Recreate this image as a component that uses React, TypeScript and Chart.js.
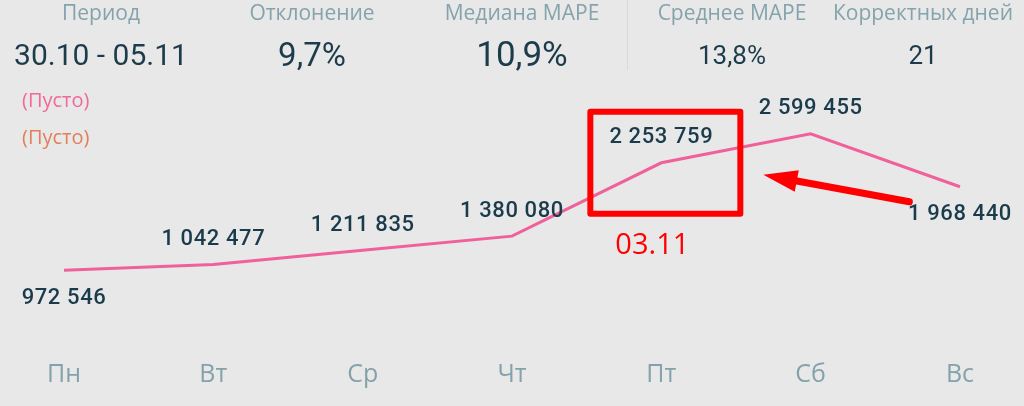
import React, { useEffect, useRef } from "react";
import { Chart, registerables } from "chart.js";

Chart.register(...registerables);

const categories = ["Пн", "Вт", "Ср", "Чт", "Пт", "Сб", "Вс"];
const values = [972546, 1042477, 1211835, 1380080, 2253759, 2599455, 1968440];
const labelSides = ["below", "above", "above", "above", "above", "above", "below"];
const highlightIndex = 4;
const highlightLabel = "03.11";
const kpiTitles = ["Период", "Отклонение", "Медиана MAPE", "Среднее MAPE", "Корректных дней"];
const kpiValues = ["30.10 - 05.11", "9,7%", "10,9%", "13,8%", "21"];
const legendItems = ["(Пусто)", "(Пусто)"];

const kpiCenters = [101, 312, 522, 732, 923];
const kpiValueSizes = [30, 33, 35, 26, 26];
const legendColors = ["#f2689b", "#e27e58"];

const fmt = (v: number) => v.toString().replace(/\B(?=(\d{3})+(?!\d))/g, " ");

const valueLabelPlugin = {
  id: "valueLabels",
  afterDatasetsDraw(chart: any) {
    const ctx = chart.ctx;
    const meta = chart.getDatasetMeta(0);
    ctx.save();
    ctx.font = "500 22px Roboto";
    ctx.fillStyle = "#1a3b4b";
    ctx.textAlign = "center";
    ctx.textBaseline = "middle";
    (ctx as any).letterSpacing = "0.6px";
    meta.data.forEach((pt: any, i: number) => {
      const dy = labelSides[i] === "below" ? 28 : -25;
      ctx.fillText(fmt(values[i]), pt.x, pt.y + dy);
    });
    ctx.restore();
  },
};

const annotationPlugin = {
  id: "annotation",
  afterDraw(chart: any) {
    const ctx = chart.ctx;
    const pt = chart.getDatasetMeta(0).data[highlightIndex];
    const x = pt.x;
    const y = pt.y;
    ctx.save();
    ctx.strokeStyle = "#ff0000";
    ctx.lineWidth = 6;
    ctx.lineJoin = "round";
    ctx.strokeRect(x - 71, y - 51, 150, 102);
    ctx.fillStyle = "#ff0000";
    ctx.font = "29px 'Open Sans'";
    ctx.textAlign = "center";
    ctx.textBaseline = "middle";
    ctx.fillText(highlightLabel, x - 9, y + 83);
    // arrow
    const tx = x + 248, ty = y + 39;
    const hx = x + 102, hy = y + 12;
    const ang = Math.atan2(hy - ty, hx - tx);
    const headLen = 34;
    const bx = hx - headLen * Math.cos(ang);
    const by = hy - headLen * Math.sin(ang);
    ctx.lineCap = "round";
    ctx.lineWidth = 7;
    ctx.beginPath();
    ctx.moveTo(tx, ty);
    ctx.lineTo(bx + 4 * Math.cos(ang), by + 4 * Math.sin(ang));
    ctx.stroke();
    const px = -Math.sin(ang), py = Math.cos(ang);
    ctx.beginPath();
    ctx.moveTo(hx, hy);
    ctx.lineTo(bx + px * 11, by + py * 11);
    ctx.lineTo(bx - px * 11, by - py * 11);
    ctx.closePath();
    ctx.fill();
    ctx.restore();
  },
};

export default function App() {
  const canvasRef = useRef<HTMLCanvasElement | null>(null);

  useEffect(() => {
    if (!canvasRef.current) return;
    const chart = new Chart(canvasRef.current, {
      type: "line",
      data: {
        labels: categories,
        datasets: [
          {
            data: values,
            borderColor: "#f0609a",
            borderWidth: 3,
            pointRadius: 0,
            tension: 0,
            fill: false,
          },
        ],
      },
      options: {
        animation: false,
        responsive: false,
        maintainAspectRatio: false,
        devicePixelRatio: 1,
        layout: { padding: { left: 64, right: 64, top: 80, bottom: 8 } },
        plugins: { legend: { display: false }, tooltip: { enabled: false } },
        scales: {
          x: {
            offset: false,
            grid: { display: false, drawTicks: false },
            border: { display: false },
            ticks: {
              color: "#84a2ab",
              font: { family: "'Open Sans'", size: 25 },
              padding: 8,
              maxRotation: 0,
            },
          },
          y: {
            display: false,
            min: 0,
            max: 3240000,
          },
        },
      },
      plugins: [valueLabelPlugin, annotationPlugin],
    });
    return () => chart.destroy();
  }, []);

  return (
    <div
      style={{
        position: "fixed",
        left: 0,
        top: 0,
        width: 1024,
        height: 406,
        background: "#e8e8e8",
        overflow: "hidden",
      }}
    >
      <canvas
        ref={canvasRef}
        width={1024}
        height={406}
        style={{ position: "absolute", left: 0, top: 0, width: 1024, height: 406 }}
      />
      <div
        style={{
          position: "absolute",
          left: 627,
          top: 0,
          width: 1,
          height: 70,
          background: "#dadada",
        }}
      />
      {kpiTitles.map((t, i) => (
        <div
          key={"t" + i}
          style={{
            position: "absolute",
            left: kpiCenters[i] - 120,
            width: 240,
            top: -2,
            textAlign: "center",
            fontFamily: "'Open Sans', sans-serif",
            fontSize: 21,
            lineHeight: "28px",
            color: "#84a3ac",
            whiteSpace: "nowrap",
          }}
        >
          {t}
        </div>
      ))}
      {kpiValues.map((v, i) => (
        <div
          key={"v" + i}
          style={{
            position: "absolute",
            left: kpiCenters[i] - 120,
            width: 240,
            top: 35,
            height: 40,
            lineHeight: "40px",
            textAlign: "center",
            fontFamily: "Roboto, sans-serif",
            fontSize: kpiValueSizes[i],
            color: "#1c3c4b",
            whiteSpace: "nowrap",
          }}
        >
          {v}
        </div>
      ))}
      {legendItems.map((l, i) => (
        <div
          key={"l" + i}
          style={{
            position: "absolute",
            left: 22,
            top: 100 + i * 37 - 14,
            height: 28,
            lineHeight: "28px",
            fontFamily: "'Open Sans', sans-serif",
            fontSize: 20,
            color: legendColors[i],
            whiteSpace: "nowrap",
          }}
        >
          {l}
        </div>
      ))}
    </div>
  );
}
